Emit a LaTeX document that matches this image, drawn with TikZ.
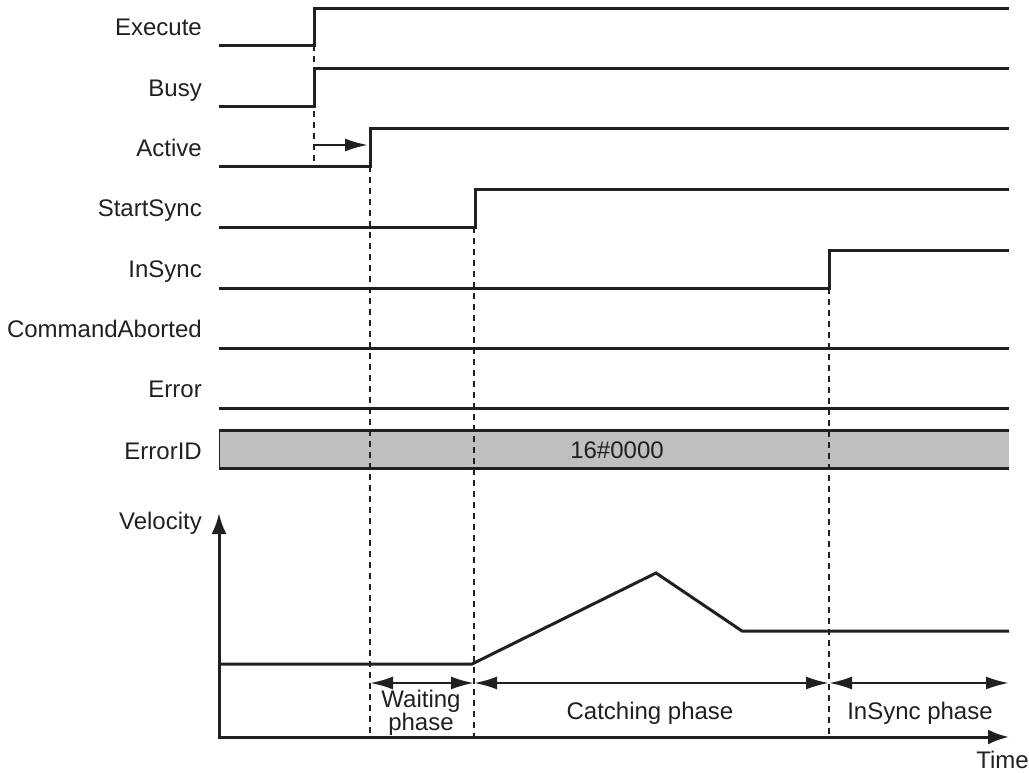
\documentclass[tikz,border=0pt]{standalone}
\usepackage{fontspec}
\setmainfont{Liberation Sans}
\usepackage{tikz}
\usetikzlibrary{arrows.meta}
\definecolor{ink}{RGB}{35,31,32}
\definecolor{bandgray}{RGB}{190,191,193}

\begin{document}
\begin{tikzpicture}[x=1pt, y=-1pt, font=\fontsize{24}{19}\selectfont,
    sig/.style={ink, line width=3pt},
    guide/.style={ink, line width=1.3pt, dash pattern=on 6pt off 5pt},
    lbl/.style={anchor=base east, text=ink, inner sep=0pt},
    phase/.style={ink, line width=2.4pt, {Latex[length=23pt,width=13pt]}-{Latex[length=23pt,width=13pt]}},
    txt/.style={text=ink, inner sep=0pt, align=center}]
  \useasboundingbox (0,0) rectangle (1029,772);
  % signal names
  \node[lbl] (execute) at (202,35) {Execute};
  \node[lbl] (busy) at (202,96) {Busy};
  \node[lbl] (active) at (202,156) {Active};
  \node[lbl] (startsync) at (202,216) {StartSync};
  \node[lbl] (insync) at (202,277) {InSync};
  \node[lbl] (cmdaborted) at (202,337) {CommandAborted};
  \node[lbl] (error) at (202,397) {Error};
  \node[lbl] (errorid) at (202,459) {ErrorID};
  \node[lbl] (velocity) at (202,529) {Velocity};
  % timing lines
  \draw[sig] (219,45) -- (314,45) -- (314,8) -- (1009,8);
  \draw[sig] (219,106) -- (314,106) -- (314,68) -- (1009,68);
  \draw[sig] (219,166) -- (370,166) -- (370,128) -- (1009,128);
  \draw[sig] (219,227) -- (475,227) -- (475,189) -- (1009,189);
  \draw[sig] (219,288) -- (829,288) -- (829,250) -- (1009,250);
  \draw[sig] (219,348) -- (1009,348);
  \draw[sig] (219,408) -- (1009,408);
  \fill[bandgray] (219,430) rectangle (1009,468);
  \draw[sig] (219,430) -- (1009,430) (219,468) -- (1009,468);
  \draw[ink, line width=1pt] (219.5,430) -- (219.5,468);
  \node[txt] (code) at (617,450) {16\#0000};
  % delay arrow
  \coordinate (d0) at (314,145);
  \coordinate (d1) at (368,145);
  \draw[ink, line width=2.4pt, -{Latex[length=23pt,width=13pt]}] (d0) -- (d1);
  % guide lines
  \draw[guide] (314,45) -- (314,166);
  \draw[guide] (370,166) -- (370,737);
  \draw[guide] (474,227) -- (474,737);
  \draw[guide] (829,288) -- (829,737);
  % velocity graph
  \coordinate (origin) at (219,737);
  \coordinate (vtop) at (219,513);
  \coordinate (tend) at (1009,737);
  \draw[sig, {Latex[length=21pt,width=15pt]}-{Latex[length=21pt,width=15pt]}] (vtop) -- (origin) -- (tend);
  \draw[sig, line join=miter] (219,664) -- (472,664) -- (656,573) -- (742,631) -- (1009,631);
  % phases
  \coordinate (p0) at (370,683);
  \coordinate (p1) at (474,683);
  \coordinate (p2) at (829,683);
  \coordinate (p3) at (1009,683);
  \draw[phase] (p0) -- (p1);
  \draw[phase] (p1) -- (p2);
  \draw[phase] (p2) -- (p3);
  \node[txt] (waiting) at (421,713) {Waiting\\phase};
  \node[txt] (catching) at (650,713) {Catching phase};
  \node[txt] (inphase) at (920,713) {InSync phase};
  \node[txt, anchor=base east] (time) at (1029,768) {Time};
\end{tikzpicture}
\end{document}
